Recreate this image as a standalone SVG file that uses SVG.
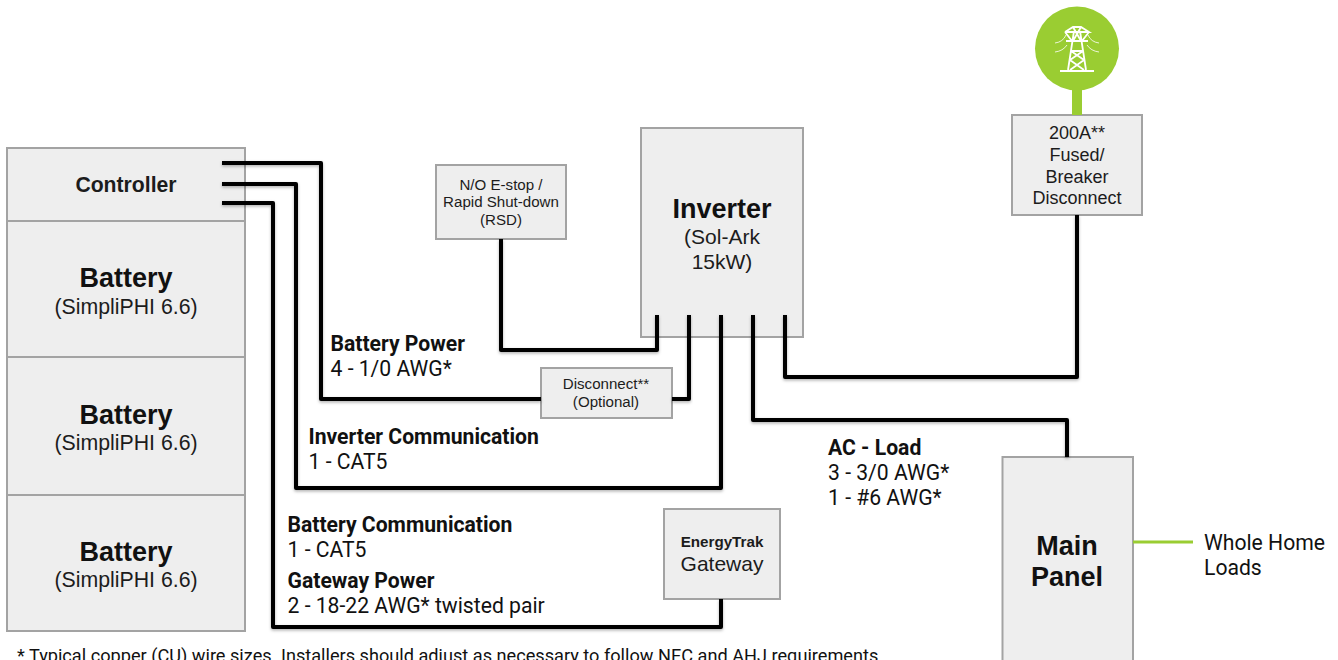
<svg xmlns="http://www.w3.org/2000/svg" width="1338" height="660" viewBox="0 0 1338 660">
<defs>
<filter id="sh" x="-20%" y="-20%" width="140%" height="140%"><feDropShadow dx="0" dy="1.5" stdDeviation="1.5" flood-color="#000" flood-opacity="0.3"/></filter>
</defs>
<style>
.box{fill:#eeeeee;stroke:#a3a3a3;stroke-width:2}
.wire{fill:none;stroke:#000;stroke-width:4;stroke-linejoin:round;filter:url(#sh)}
.g{fill:none;stroke:#9acd32}
text{font-family:"Liberation Sans",Arial,sans-serif;fill:#1c1c1c;text-anchor:middle}
.r{font-family:Roboto,"Liberation Sans",sans-serif;font-size:21.15px;text-anchor:start;fill:#111}
.b{font-weight:700}
.t{font-size:27px;font-weight:700;fill:#111}
.s{font-size:21px}
.p{font-size:21.3px}
.m{font-size:18px}
.x{font-size:15.1px}
</style>
<g id="battery-stack">
<g id="controller"><rect class="box" x="7" y="148" width="238" height="73"/><text x="126" y="192" font-size="21.2" font-weight="700">Controller</text></g>
<g id="battery-1"><rect class="box" x="7" y="221" width="238" height="136"/><text class="t" x="126" y="287">Battery</text><text class="p" x="126" y="314">(SimpliPHI 6.6)</text></g>
<g id="battery-2"><rect class="box" x="7" y="357" width="238" height="138"/><text class="t" x="126" y="424">Battery</text><text class="p" x="126" y="450">(SimpliPHI 6.6)</text></g>
<g id="battery-3"><rect class="box" x="7" y="495" width="238" height="136"/><text class="t" x="126" y="561">Battery</text><text class="p" x="126" y="587">(SimpliPHI 6.6)</text></g>
</g>
<g id="inverter"><rect class="box" x="641" y="128" width="162" height="209"/><text class="t" x="722" y="218">Inverter</text><text class="s" x="722" y="244">(Sol-Ark</text><text class="s" x="722" y="269">15kW)</text></g>
<g id="estop"><rect class="box" x="436" y="165" width="130" height="74"/><text class="x" x="501" y="190">N/O E-stop /</text><text class="x" x="501" y="207">Rapid Shut-down</text><text class="x" x="501" y="225">(RSD)</text></g>
<g id="grid"><circle cx="1077" cy="48.5" r="42" fill="#9acd32"/>
<g fill="none" stroke="#fff"><path stroke-width="1.8" d="M1060 71H1094M1068 70L1074 31M1086 70L1080 31M1065 32L1073 27H1081L1089 32L1065 32M1066 41H1088M1071 51H1083M1070 60L1084 70M1084 60L1070 70M1071 51L1084 60M1083 51L1070 60M1065 32L1072 41M1089 32L1082 41M1073 27L1081 41M1081 27L1073 41"/><path stroke-width="0.8" d="M1055 43Q1063 42 1066 35M1099 43Q1091 42 1088 35M1055 52Q1063 51 1067 45M1099 52Q1091 51 1087 45"/></g></g>
<g id="disconnect-200a"><rect class="box" x="1012" y="115" width="130" height="100"/><text class="m" x="1077" y="139">200A**</text><text class="m" x="1077" y="161">Fused/</text><text class="m" x="1077" y="183">Breaker</text><text class="m" x="1077" y="204">Disconnect</text></g>
<g id="disconnect-opt"><rect class="box" x="541" y="368" width="131" height="50"/><text class="x" x="606" y="389">Disconnect**</text><text class="x" x="606" y="407">(Optional)</text></g>
<g id="gateway"><rect class="box" x="664" y="509" width="116" height="90"/><text x="722" y="547" font-size="15.2" font-weight="700">EnergyTrak</text><text class="s" x="722" y="571">Gateway</text></g>
<g id="main-panel"><rect class="box" x="1002.5" y="457" width="130.5" height="223"/><text class="t" x="1067" y="555">Main</text><text class="t" x="1067" y="586">Panel</text></g>
<g id="connectors">
<path class="g" stroke-width="10" d="M1077 90V115"/>
<path class="g" stroke-width="3" d="M1133 542H1193"/>
<path class="wire" d="M222 163H321V399H541"/>
<path class="wire" d="M672 399H689V315"/>
<path class="wire" d="M222 184H296V488H721V315"/>
<path class="wire" d="M222 203H273V627H721V599"/>
<path class="wire" d="M501 239V350H657V315"/>
<path class="wire" d="M753 315V420H1067V457"/>
<path class="wire" d="M785 315V377H1077V215"/>
</g>
<g id="labels">
<text class="r b" x="330.5" y="350.5">Battery Power</text><text class="r" x="330.5" y="375.5">4 - 1/0 AWG*</text>
<text class="r b" x="308.5" y="443.5">Inverter Communication</text><text class="r" x="308.5" y="468.5">1 - CAT5</text>
<text class="r b" x="287.5" y="531.5">Battery Communication</text><text class="r" x="287.5" y="556.5">1 - CAT5</text>
<text class="r b" x="287.5" y="587.5">Gateway Power</text><text class="r" x="287.5" y="612.5">2 - 18-22 AWG* twisted pair</text>
<text class="r b" x="828" y="454.5">AC - Load</text><text class="r" x="828" y="479.5">3 - 3/0 AWG*</text><text class="r" x="828" y="504.5">1 - #6 AWG*</text>
<text class="r" x="1204" y="549.5">Whole Home</text><text class="r" x="1204" y="574.5">Loads</text>
<text class="r" x="17" y="662" style="font-size:18.17px">* Typical copper (CU) wire sizes. Installers should adjust as necessary to follow NEC and AHJ requirements.</text>
</g>
</svg>
